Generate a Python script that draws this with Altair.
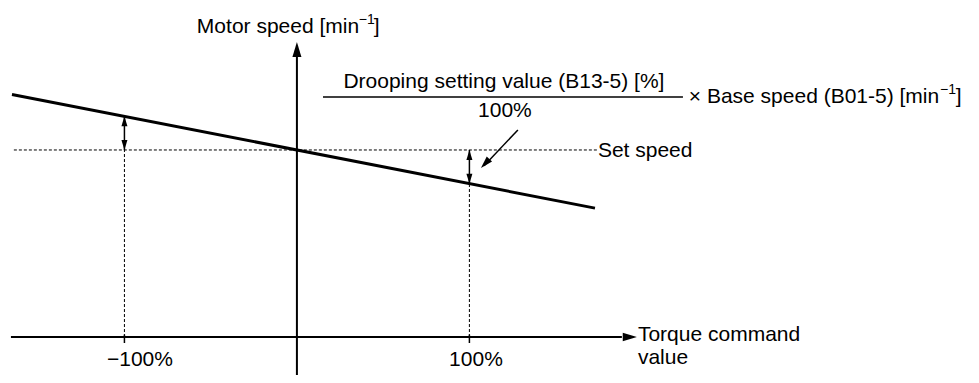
import altair as alt
import pandas as pd

# ---- data (torque command in %, motor speed in units where set speed = 100) ----
X_DOMAIN = [-167.5, 390.8]
Y_DOMAIN = [-20.3, 175.9]

tick_torque = [-100, 100]
tick_labels = ["−100%", "100%"]
set_speed = 100
droop_torque = [-165.2, 172.8]
droop_speed = [129.7, 68.9]
speed_on_line = [118.0, 82.0]   # droop line speed at -100% and +100%

FONT = "Liberation Sans"

xs = alt.Scale(domain=X_DOMAIN, nice=False, zero=False)
ys = alt.Scale(domain=Y_DOMAIN, nice=False, zero=False)


def enc(**extra):
    d = dict(x=alt.X("x:Q", scale=xs, axis=None), y=alt.Y("y:Q", scale=ys, axis=None))
    if "x2" in extra:
        d["x2"] = alt.X2("x2:Q")
    if "y2" in extra:
        d["y2"] = alt.Y2("y2:Q")
    return d


def rules(df, **mk):
    return alt.Chart(df).mark_rule(color="black", **mk).encode(
        **enc(x2=True, y2=True))


# axes
axes_df = pd.DataFrame({
    "x": [-165.8, 0],
    "x2": [188.4, 0],
    "y": [0, Y_DOMAIN[0]],
    "y2": [0, 149.7],
})
ticks_df = pd.DataFrame({
    "x": tick_torque, "x2": tick_torque, "y": [1.3, 1.3], "y2": [-3.2, -3.2]})

# set speed reference (dashed) and projections (dotted)
dash_df = pd.DataFrame({
    "x": [-164.1, tick_torque[0], tick_torque[1]],
    "x2": [173.9, tick_torque[0], tick_torque[1]],
    "y": [set_speed, 0, 0],
    "y2": [set_speed, set_speed, speed_on_line[1]],
})

# droop characteristic
droop_df = pd.DataFrame({"x": [droop_torque[0]], "x2": [droop_torque[1]],
                         "y": [droop_speed[0]], "y2": [droop_speed[1]]})

# thin solid lines: double-arrow shafts, fraction bar, annotation arrow
thin_df = pd.DataFrame({
    "x": [tick_torque[0], tick_torque[1], 15.1, 128.1],
    "x2": [tick_torque[0], tick_torque[1], 223.8, 108.5],
    "y": [set_speed, set_speed, 128.3, 110.7],
    "y2": [speed_on_line[0], speed_on_line[1], 128.3, 91.6],
})

# arrowheads (tip at the point)
heads_df = pd.DataFrame({
    "x": [0, 197.1, tick_torque[0], tick_torque[0], tick_torque[1], tick_torque[1], 106.7],
    "y": [157.75, 0, speed_on_line[0], set_speed, set_speed, speed_on_line[1], 90.4],
    "angle": [0, 90, 0, 180, 0, 180, 223.5],
    "size": [225, 200, 100, 100, 100, 100, 150],
})
ARROW = "M0,0L-0.6,2L0.6,2Z"

heads = alt.Chart(heads_df).mark_point(
    shape=ARROW, filled=True, color="black", opacity=1, strokeWidth=0
).encode(
    **enc(),
    angle=alt.Angle("angle:Q", scale=None),
    size=alt.Size("size:Q", scale=None),
)

# texts
left_text = pd.DataFrame({
    "label": ["Motor speed [min", "−1", "]",
              "× Base speed (B01-5) [min", "−1", "]",
              "Set speed", "Torque command", "value"],
    "x": [-58.0, 35.9, 44.6, 227.2, 372.8, 382.0, 174.5, 197.7, 197.7],
    "y": [162.6, 167.4, 162.6, 125.1, 129.9, 125.1, 96.3, -2.1, -14.4],
    "fs": [21, 14, 21, 21, 14, 21, 21, 21, 21],
})
center_text = pd.DataFrame({
    "label": ["Drooping setting value (B13-5) [%]", "100%", tick_labels[0], tick_labels[1]],
    "x": [120.0, 120.6, -91.0, 103.8],
    "y": [133.2, 117.6, -15.5, -15.5],
    "fs": [21, 21, 21, 21],
})

t_left = alt.Chart(left_text).mark_text(
    align="left", baseline="alphabetic", font=FONT, color="black"
).encode(**enc(), text="label:N", size=alt.Size("fs:Q", scale=None))
t_center = alt.Chart(center_text).mark_text(
    align="center", baseline="alphabetic", font=FONT, color="black"
).encode(**enc(), text="label:N", size=alt.Size("fs:Q", scale=None))

chart = alt.layer(
    rules(dash_df, strokeWidth=1, strokeDash=[3, 2]),
    rules(axes_df, strokeWidth=2),
    rules(ticks_df, strokeWidth=1.5),
    rules(thin_df, strokeWidth=1.5),
    rules(droop_df, strokeWidth=3),
    heads,
    t_left,
    t_center,
).properties(
    width=963, height=367, padding=0, autosize=alt.AutoSizeParams(type="none"),
    background="white",
).configure_view(stroke=None)

chart.save("out.html", embed_options={"renderer": "svg", "actions": False})
